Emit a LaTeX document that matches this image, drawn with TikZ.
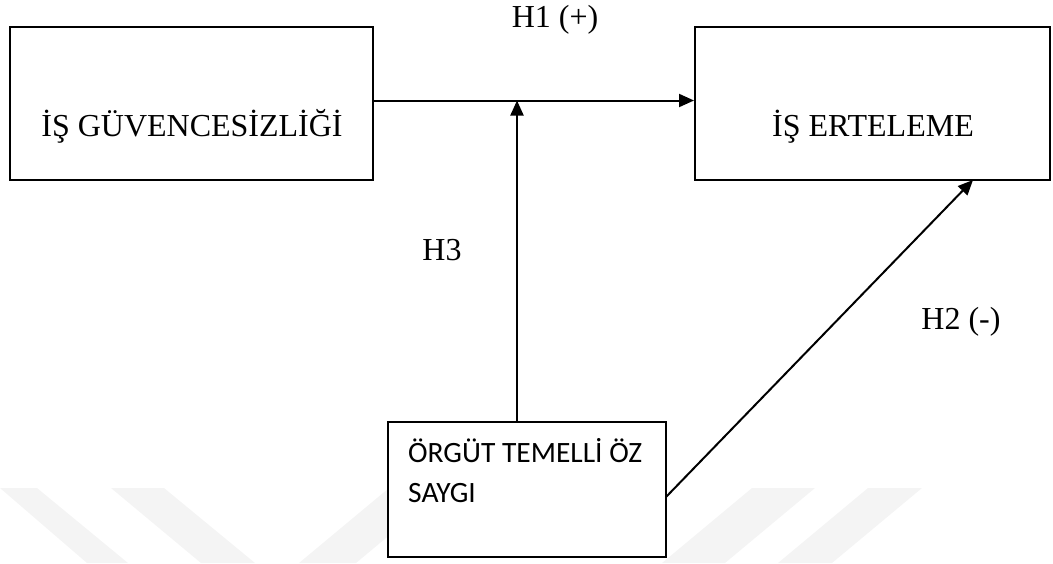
\documentclass[tikz,border=0pt]{standalone}
\usepackage{fontspec}
\setmainfont{Liberation Serif}
\newfontfamily\calib{Carlito}
\usetikzlibrary{arrows.meta}
\definecolor{wm}{RGB}{244,244,244}
\tikzset{
  box/.style={draw, line width=2pt, fill=white, inner sep=0pt},
  conn/.style={line width=2pt, -{Triangle[length=15pt,width=13pt]}},
  lbl/.style={font=\fontsize{32}{38}\selectfont, inner sep=0pt, anchor=base},
  stripe/.style={fill=wm, draw=none}
}
\begin{document}
\begin{tikzpicture}[x=1pt,y=-1pt]
\useasboundingbox (0,0) rectangle (1053,563);
% watermark stripes
\fill[stripe] (0,488) -- (37,488) -- (128,563) -- (87,563) -- cycle;
\fill[stripe] (111,488) -- (164,488) -- (255,563) -- (201,563) -- cycle;
\fill[stripe] (299,563) -- (356,563) -- (446,488) -- (389,488) -- cycle;
\fill[stripe] (662,563) -- (725,563) -- (815,488) -- (752,488) -- cycle;
\fill[stripe] (778,563) -- (832,563) -- (922,488) -- (868,488) -- cycle;
% boxes
\node[box, minimum width=363pt, minimum height=153pt] (L) at (191.5,103.5) {};
\node[box, minimum width=355pt, minimum height=153pt] (R) at (872.5,103.5) {};
\node[box, minimum width=278pt, minimum height=135pt] (B) at (527,489.5) {};
\node[lbl] (Lt) at (192,136) {İŞ GÜVENCESİZLİĞİ};
\node[lbl] (Rt) at (873,136) {İŞ ERTELEME};
\node[font=\calib\fontsize{29.5}{40}\selectfont, align=left, anchor=base west, inner sep=0pt] (Bt) at (408,502) {ÖRGÜT TEMELLİ ÖZ\\SAYGI};
% labels
\node[lbl] (h1) at (555,27) {H1 (+)};
\node[lbl] (h3) at (442,260) {H3};
\node[lbl] (h2) at (961,329) {H2 (-)};
% connectors
\coordinate (J) at (517,100.5);
\coordinate (D1) at (666,497);
\coordinate (D2) at (973,180);
\draw[conn] (L.east |- J) -- (R.west |- J);
\draw[conn] (J |- B.north) -- (J);
\draw[conn] (D1) -- (D2);
\end{tikzpicture}
\end{document}
